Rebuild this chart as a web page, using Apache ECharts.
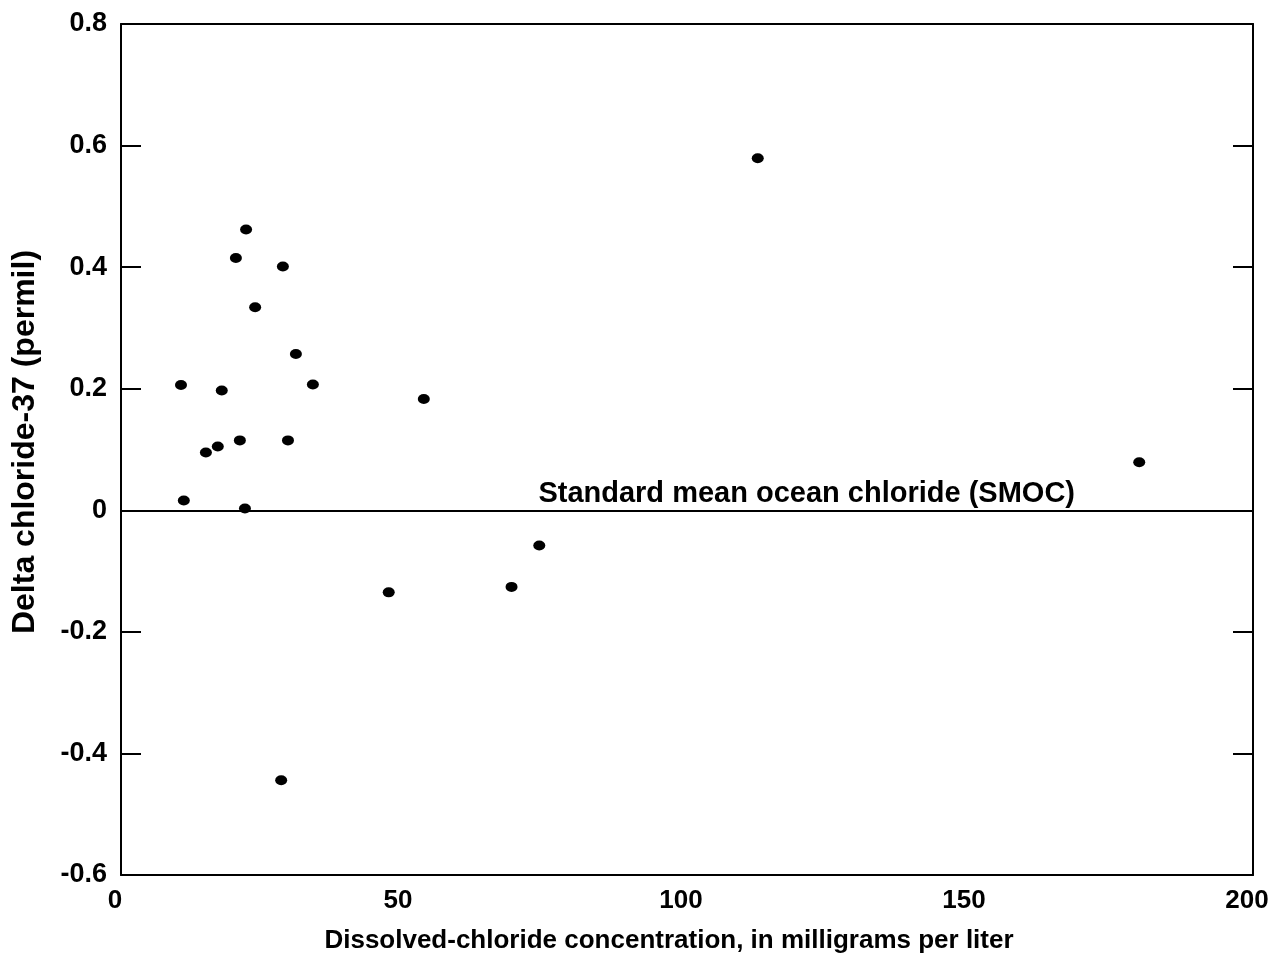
<!DOCTYPE html>
<html lang="en">
<head>
  <meta charset="UTF-8" />
  <title>delta chloride-37</title>
  <style>
    * {
      margin: 0;
      padding: 0;
    }
    html,
    body {
      width: 100%;
      background: #fff;
    }
    .chart {
      width: 1283px;
      height: 953px;
    }
  </style>
</head>
<body>
  <div class="chart" id="chart"></div>
  <script src="https://cdn.jsdelivr.net/npm/echarts@6/dist/echarts.min.js"></script>
  <script>
    // values
    var chlorideMgL = [10.6, 11.1, 15.0, 17.1, 17.8, 20.3, 21.0, 21.9, 22.1, 23.7, 28.6, 28.3, 29.5, 30.9, 33.9, 53.5, 47.3, 69.0, 73.9, 112.5, 179.9];
    var deltaCl37 = [0.206, 0.016, 0.095, 0.105, 0.197, 0.415, 0.115, 0.003, 0.462, 0.334, 0.401, -0.444, 0.115, 0.257, 0.207, 0.183, -0.135, -0.126, -0.058, 0.579, 0.079];
    var smocValue = 0;
    var smocLabel = 'Standard mean ocean chloride (SMOC)';

    window.onload = function () {
      var myChart = echarts.init(document.getElementById('chart'));
      var font = 'Liberation Sans, Arial, sans-serif';
      var points = chlorideMgL.map(function (x, i) { return [x, deltaCl37[i]]; });
      var frameLine = { onZero: false, lineStyle: { color: '#000', width: 2 } };
      var innerTick = { inside: true, length: 20, lineStyle: { color: '#000', width: 2 } };

      var options = {
        animation: false,
        backgroundColor: '#fff',
        grid: { left: 121, right: 30, top: 24, bottom: 78, containLabel: false, outerBoundsMode: 'none' },
        xAxis: [
          {
            type: 'value',
            min: 0,
            max: 200,
            interval: 50,
            position: 'bottom',
            name: 'Dissolved-chloride concentration, in milligrams per liter',
            nameLocation: 'middle',
            nameGap: 53,
            nameTextStyle: { color: '#000', fontFamily: font, fontWeight: 'bold', fontSize: 26, padding: [0, 36, 0, 0] },
            axisLine: frameLine,
            axisTick: { show: false },
            axisLabel: { color: '#000', fontFamily: font, fontWeight: 'bold', fontSize: 26, margin: 13, padding: [0, 12, 0, 0] },
            splitLine: { show: false }
          },
          {
            type: 'value',
            min: 0,
            max: 200,
            position: 'top',
            axisLine: frameLine,
            axisTick: { show: false },
            axisLabel: { show: false },
            splitLine: { show: false }
          }
        ],
        yAxis: [
          {
            type: 'value',
            min: -0.6,
            max: 0.8,
            interval: 0.2,
            position: 'left',
            name: 'Delta chloride-37 (permil)',
            nameLocation: 'middle',
            nameGap: 80,
            nameTextStyle: { color: '#000', fontFamily: font, fontWeight: 'bold', fontSize: 32, padding: [0, 0, 0, 15] },
            axisLine: frameLine,
            axisTick: innerTick,
            axisLabel: {
              color: '#000', fontFamily: font, fontWeight: 'bold', fontSize: 27, margin: 14,
              formatter: function (v) { return +v.toFixed(1) === 0 ? '0' : v.toFixed(1); }
            },
            splitLine: { show: false }
          },
          {
            type: 'value',
            min: -0.6,
            max: 0.8,
            interval: 0.2,
            position: 'right',
            axisLine: frameLine,
            axisTick: innerTick,
            axisLabel: { show: false },
            splitLine: { show: false }
          }
        ],
        series: [
          {
            type: 'scatter',
            data: points,
            symbol: 'circle',
            symbolSize: [12, 10],
            itemStyle: { color: '#000', opacity: 1 },
            markLine: {
              silent: true,
              symbol: 'none',
              lineStyle: { color: '#000', width: 2, type: 'solid' },
              label: {
                formatter: smocLabel,
                position: 'insideEndTop',
                distance: [178, 2],
                color: '#000',
                fontFamily: font,
                fontWeight: 'bold',
                fontSize: 29
              },
              data: [{ yAxis: smocValue }]
            }
          }
        ]
      };
      myChart.setOption(options);
    };
  </script>
</body>
</html>
